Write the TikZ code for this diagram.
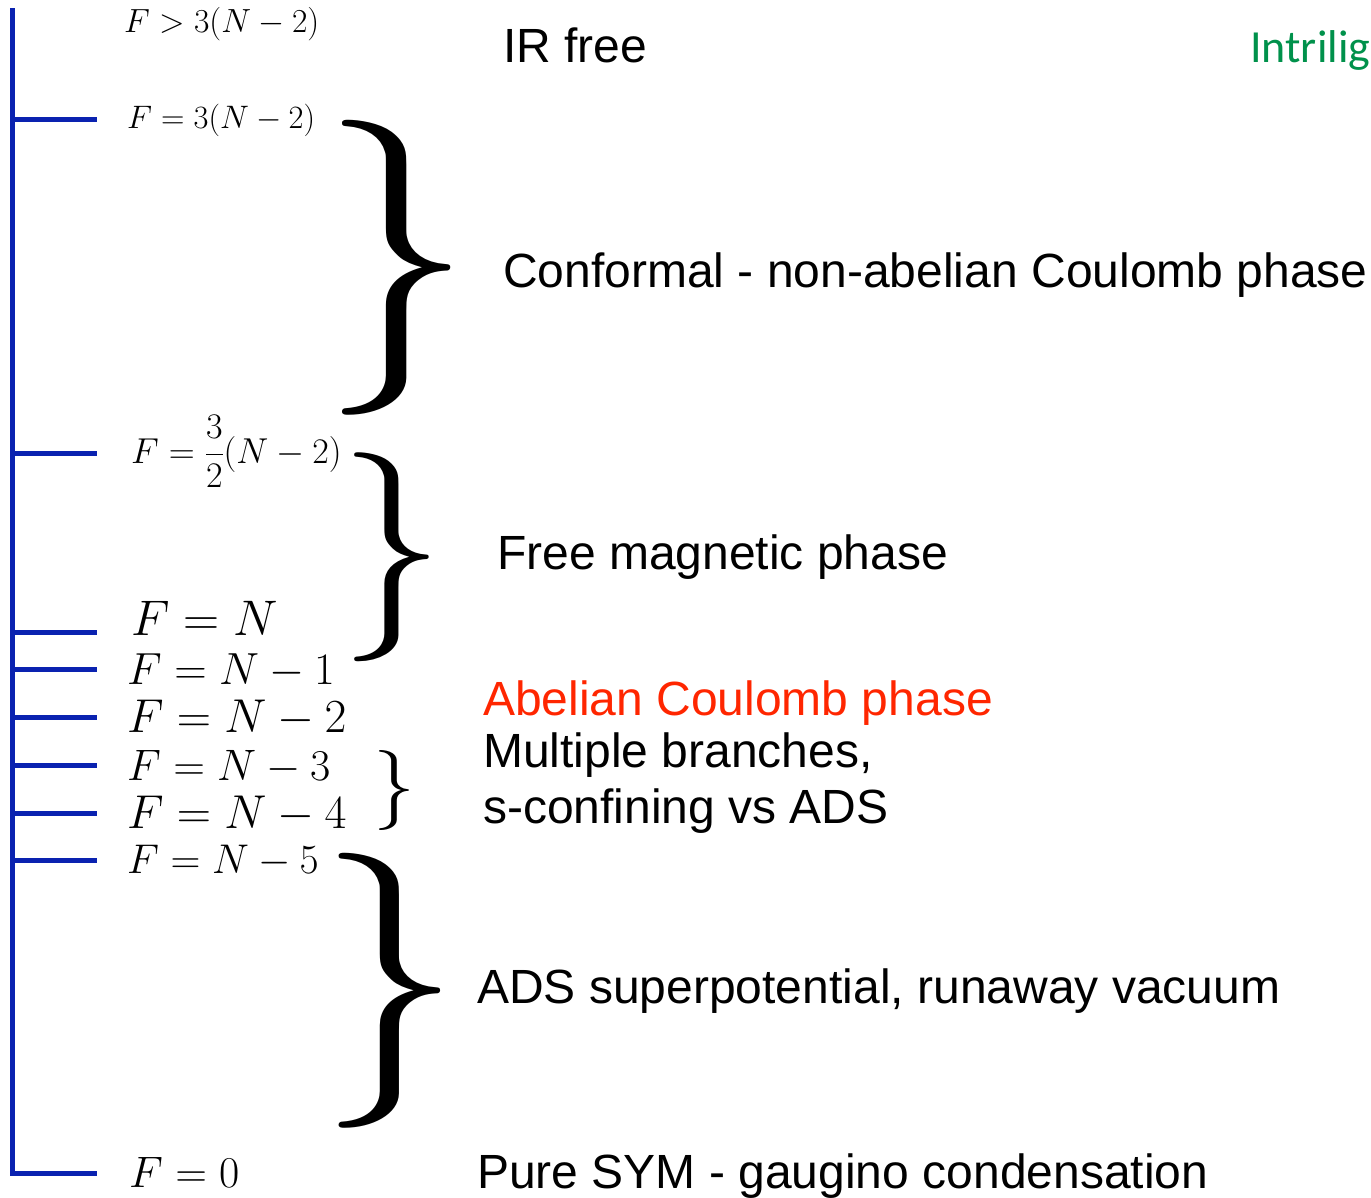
\RequirePackage{fix-cm}
\documentclass[tikz,border=0pt]{standalone}
\usepackage{amsmath}
\usepackage{graphicx}
\usepackage{fontspec}
\setsansfont{Liberation Sans}
\newfontfamily\calfont{Carlito}
\usepackage{tikz}
\usetikzlibrary{positioning}

\definecolor{axisblue}{RGB}{10,34,176}
\definecolor{phasered}{RGB}{255,38,0}
\definecolor{namegreen}{RGB}{0,145,75}

\newcommand{\fsz}[1]{\fontsize{#1}{#1}\selectfont}

\begin{document}
\begin{tikzpicture}
[
                  x =  1pt,
                  y = -1pt,
        bar/.style = { draw=axisblue, line width=5pt },
     flabel/.style = { anchor=base west, inner sep=0pt },
      phase/.style = { anchor=base west, inner sep=0pt, font=\sffamily\fsz{48} },
      brace/.style = { anchor=west, inner sep=0pt }
]
    \useasboundingbox (0,0) rectangle (1371,1197);

    % the F axis
    \coordinate (AxisTop)  at (12,8);
    \coordinate (AxisBot)  at (12,1173);
    \coordinate (AxisEnd)  at (97,1173);
    \coordinate (T3N)      at (12,119);
    \coordinate (T32N)     at (12,453);
    \coordinate (TN)       at (12,632);
    \coordinate (TN1)      at (12,669);
    \coordinate (TN2)      at (12,717);
    \coordinate (TN3)      at (12,765);
    \coordinate (TN4)      at (12,813);
    \coordinate (TN5)      at (12,860);

    \draw [bar] (AxisTop) -- (AxisBot) -- (AxisEnd);
    \draw [bar] (T3N)  -- ++(85,0);
    \draw [bar] (T32N) -- ++(85,0);
    \draw [bar] (TN)   -- ++(85,0);
    \draw [bar] (TN1)  -- ++(85,0);
    \draw [bar] (TN2)  -- ++(85,0);
    \draw [bar] (TN3)  -- ++(85,0);
    \draw [bar] (TN4)  -- ++(85,0);
    \draw [bar] (TN5)  -- ++(85,0);

    % values of F
    \node (FAbove)  at (124,32)   [flabel, font=\fsz{33.5}] {$F>3(N-2)$};
    \node (F3N)     at (127,128)  [flabel, font=\fsz{32.5}] {$F=3(N-2)$};
    \node (F32N)    at (131,463)  [flabel, font=\fsz{36}] {$F=\dfrac{3}{2}(N-2)$};
    \node (FN)      at (131,635)  [flabel, font=\fsz{50}] {$F=N$};
    \node (FN1)     at (127,684)  [flabel, font=\fsz{45}] {$F=N-1$};
    \node (FN2)     at (127,732)  [flabel, font=\fsz{47.5}] {$F=N-2$};
    \node (FN3)     at (127,780)  [flabel, font=\fsz{44}] {$F=N-3$};
    \node (FN4)     at (127,828)  [flabel, font=\fsz{47.5}] {$F=N-4$};
    \node (FN5)     at (127,873)  [flabel, font=\fsz{41.5}] {$F=N-5$};
    \node (F0)      at (129,1187) [flabel, font=\fsz{44}] {$F=0$};

    % braces
    \node (BraceConf) at (320,268) [brace] {\scalebox{30.5}[29.5]{$\}$}};
    \node (BraceMag)  at (339,557) [brace] {\scalebox{21}[20.9]{$\}$}};
    \node (BraceMult) at (373,790) [brace] {\scalebox{8.4}[8]{$\}$}};
    \node (BraceADS)  at (318,991) [brace] {\scalebox{28.6}[27.5]{$\}$}};

    % phases
    \node (IRFree)  at (503,62)   [phase] {IR free};
    \node (Credit)  at (1250,62)  [flabel, text=namegreen, font=\calfont\fsz{46}] {Intrilig};
    \node (Conf)    at (503,287)  [phase] {Conformal - non-abelian Coulomb phase};
    \node (FreeMag) at (497,569)  [phase] {Free magnetic phase};
    \node (AbelC)   at (483,715)  [phase, text=phasered] {Abelian Coulomb phase};
    \node (Mult)    at (483,767)  [phase] {Multiple branches,};
    \node (SConf)   at (483,823)  [phase] {s-confining vs ADS};
    \node (ADS)     at (477,1003) [phase] {ADS superpotential, runaway vacuum};
    \node (SYM)     at (477,1188) [phase] {Pure SYM - gaugino condensation};

\end{tikzpicture}
\end{document}
